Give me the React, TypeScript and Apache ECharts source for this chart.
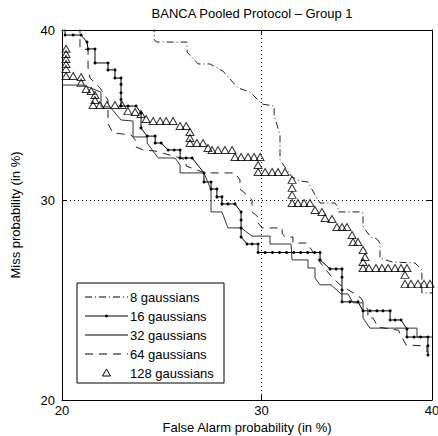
import React, { useEffect, useRef } from 'react';
import * as echarts from 'echarts';

const titleText = 'BANCA Pooled Protocol \u2013 Group 1';
const xAxisName = 'False Alarm probability (in %)';
const yAxisName = 'Miss probability (in %)';
const tickValues = [20, 30, 40];
const seriesNames = ['8 gaussians', '16 gaussians', '32 gaussians', '64 gaussians', '128 gaussians'];

// 8 gaussians (dash-dot)
const g8X = [24.35, 24.35, 24.5, 26.02, 26.02, 26.59, 27.21, 27.9, 28.71, 29.37, 30.03, 30.7, 30.7, 31.03, 31.03, 31.71, 32.16, 32.62, 33.02, 33.31, 34.18, 34.36, 34.36, 35.65, 35.83, 35.83, 36.3, 36.66, 36.84, 36.84, 37.57, 38.96, 39.38, 39.38, 39.69, 40.0];
const g8Y = [40.3, 39.39, 39.26, 39.26, 38.65, 37.93, 37.93, 37.5, 36.49, 36.24, 35.53, 35.41, 34.88, 33.72, 32.27, 31.31, 31.09, 31.03, 30.31, 29.86, 29.86, 29.64, 29.37, 29.37, 29.31, 28.55, 28.01, 27.9, 27.69, 26.9, 26.69, 26.64, 26.28, 25.1, 25.1, 25.1];

// 16 gaussians (solid with dots)
const g16X = [20.14, 20.14, 20.5, 20.86, 21.13, 21.18, 21.5, 21.5, 22.11, 22.11, 22.44, 22.44, 22.73, 22.73, 22.73, 22.73, 22.73, 23.07, 23.46, 23.7, 23.7, 24.0, 24.4, 24.4, 24.7, 25.05, 25.36, 25.66, 25.66, 25.97, 26.28, 26.9, 26.9, 27.27, 27.27, 27.58, 27.58, 27.85, 27.85, 28.17, 28.55, 28.88, 28.88, 28.88, 28.88, 29.2, 29.48, 29.81, 29.81, 30.2, 30.6, 31.0, 31.4, 31.8, 32.2, 32.6, 33.0, 33.31, 33.31, 33.89, 34.24, 34.59, 34.59, 34.59, 34.59, 35.06, 35.53, 35.83, 36.24, 36.66, 37.02, 37.45, 37.45, 37.75, 38.11, 38.47, 38.47, 38.9, 39.3, 39.75, 39.75, 39.75];
const g16Y = [40.3, 39.69, 39.69, 39.69, 39.26, 38.84, 38.84, 37.99, 37.99, 37.57, 37.57, 37.08, 37.08, 36.7, 36.2, 35.8, 35.41, 35.41, 35.41, 35.0, 34.12, 33.65, 33.65, 33.25, 33.25, 32.85, 32.85, 32.85, 32.39, 32.39, 32.39, 31.54, 31.03, 31.03, 30.64, 30.64, 30.2, 30.2, 29.81, 29.81, 29.81, 29.37, 28.93, 28.5, 28.01, 27.64, 27.64, 27.64, 27.19, 27.19, 27.19, 27.19, 27.19, 27.19, 27.19, 27.19, 27.19, 27.19, 26.8, 26.33, 26.33, 26.33, 25.9, 25.25, 24.65, 24.65, 24.65, 24.2, 24.2, 24.2, 24.2, 24.2, 23.75, 23.75, 23.75, 23.31, 22.92, 22.92, 22.92, 22.92, 22.5, 22.06];

// 32 gaussians (solid)
const g32X = [20.0, 20.95, 21.78, 21.78, 22.2, 22.73, 23.31, 23.31, 24.0, 24.0, 24.55, 25.4, 25.66, 25.66, 26.9, 27.27, 27.27, 27.85, 28.17, 28.88, 29.48, 30.47, 30.47, 31.65, 31.71, 32.62, 32.62, 33.02, 33.02, 33.31, 33.95, 34.53, 34.94, 35.24, 35.83, 35.83, 36.24, 39.08, 39.08, 40.0];
const g32Y = [36.66, 36.66, 36.24, 35.36, 35.36, 34.59, 34.53, 33.6, 33.6, 33.25, 32.39, 32.39, 31.99, 31.54, 31.54, 30.59, 29.37, 29.37, 28.5, 28.5, 28.06, 28.06, 27.64, 27.64, 26.8, 26.8, 26.38, 26.38, 25.86, 25.51, 25.51, 25.05, 25.05, 24.6, 24.6, 23.85, 23.35, 23.35, 22.92, 22.92];

// 64 gaussians (dashed)
const g64X = [20.81, 20.81, 21.18, 21.18, 21.27, 21.73, 22.11, 22.11, 22.35, 23.21, 23.46, 23.46, 23.8, 24.4, 25.66, 25.97, 25.97, 26.95, 28.55, 28.82, 28.82, 29.2, 29.48, 29.48, 29.81, 29.81, 30.03, 31.15, 31.15, 31.31, 31.76, 31.76, 32.56, 32.9, 33.42, 33.89, 34.47, 35.36, 35.71, 36.12, 36.12, 36.42, 36.72, 37.95, 38.41, 39.69, 39.69, 40.0];
const g64Y = [40.3, 38.9, 38.78, 37.69, 37.08, 36.5, 35.76, 34.36, 33.83, 33.72, 33.37, 33.02, 32.85, 32.79, 32.39, 32.27, 31.93, 31.54, 31.54, 31.15, 30.64, 30.31, 30.03, 29.37, 29.09, 28.77, 28.5, 28.5, 28.22, 28.01, 28.01, 27.69, 27.69, 27.22, 26.54, 26.02, 25.51, 25.05, 24.84, 24.25, 23.85, 23.85, 23.4, 23.25, 22.54, 22.49, 22.2, 22.2];

// 128 gaussians (triangle markers)
const g128X = [20.18, 20.18, 20.18, 20.18, 20.18, 20.18, 20.5, 20.86, 20.86, 21.09, 21.32, 21.5, 21.5, 21.41, 21.73, 22.06, 22.44, 22.78, 23.06, 23.41, 23.7, 23.95, 24.3, 24.65, 24.95, 25.3, 25.66, 25.97, 26.17, 26.17, 26.17, 26.53, 26.85, 27.11, 27.32, 27.64, 28.01, 28.39, 28.55, 28.88, 29.26, 29.59, 29.92, 29.81, 29.81, 30.2, 30.59, 30.92, 31.31, 31.71, 31.71, 31.71, 31.71, 32.04, 32.39, 32.73, 33.02, 33.42, 33.6, 34.0, 34.29, 34.59, 34.88, 35.18, 35.24, 35.53, 35.83, 35.95, 35.83, 35.83, 36.18, 36.6, 36.96, 37.33, 37.75, 38.11, 38.47, 38.35, 38.35, 38.72, 39.14, 39.51, 39.88];
const g128Y = [38.85, 38.53, 38.23, 37.93, 37.63, 37.2, 37.2, 37.14, 36.8, 36.42, 36.3, 36.07, 35.77, 35.47, 35.47, 35.47, 35.47, 35.47, 35.11, 35.06, 34.94, 34.65, 34.53, 34.53, 34.53, 34.53, 34.24, 34.24, 33.89, 33.54, 33.25, 33.25, 33.25, 32.96, 32.85, 32.85, 32.85, 32.85, 32.45, 32.45, 32.45, 32.45, 32.45, 31.99, 31.59, 31.59, 31.59, 31.59, 31.59, 31.15, 30.7, 30.31, 29.86, 29.86, 29.86, 29.86, 29.48, 29.37, 29.04, 28.98, 28.55, 28.55, 28.55, 28.12, 27.75, 27.75, 27.32, 26.95, 26.69, 26.38, 26.38, 26.38, 26.38, 26.38, 26.38, 26.38, 26.38, 26.02, 25.56, 25.56, 25.56, 25.56, 25.56];

function probit(p: number): number {
  const a = [-3.969683028665376e1, 2.209460984245205e2, -2.759285104469687e2, 1.38357751867269e2, -3.066479806614716e1, 2.506628277459239];
  const b = [-5.447609879822406e1, 1.615858368580409e2, -1.556989798598866e2, 6.680131188771972e1, -1.328068155288572e1];
  const c = [-7.784894002430293e-3, -3.223964580411365e-1, -2.400758277161838, -2.549732539343734, 4.374664141464968, 2.938163982698783];
  const d = [7.784695709041462e-3, 3.224671290700398e-1, 2.445134137142996, 3.754408661907416];
  const pl = 0.02425;
  if (p < pl) {
    const q = Math.sqrt(-2 * Math.log(p));
    return (((((c[0] * q + c[1]) * q + c[2]) * q + c[3]) * q + c[4]) * q + c[5]) / ((((d[0] * q + d[1]) * q + d[2]) * q + d[3]) * q + 1);
  }
  if (p > 1 - pl) {
    const q = Math.sqrt(-2 * Math.log(1 - p));
    return -(((((c[0] * q + c[1]) * q + c[2]) * q + c[3]) * q + c[4]) * q + c[5]) / ((((d[0] * q + d[1]) * q + d[2]) * q + d[3]) * q + 1);
  }
  const q = p - 0.5;
  const r = q * q;
  return ((((((a[0] * r + a[1]) * r + a[2]) * r + a[3]) * r + a[4]) * r + a[5]) * q) / (((((b[0] * r + b[1]) * r + b[2]) * r + b[3]) * r + b[4]) * r + 1);
}

const toData = (xs: number[], ys: number[]) => xs.map((x, i) => [probit(x / 100), probit(ys[i] / 100)]);

const FONT = 'Liberation Sans, Arial, Helvetica, sans-serif';

export default function App() {
  const ref = useRef<HTMLDivElement>(null);
  useEffect(() => {
    const chart = echarts.init(ref.current!, null, { renderer: 'svg' });
    const tickP = tickValues.map((t) => probit(t / 100));
    const lo = probit(tickValues[0] / 100);
    const hi = probit(tickValues[tickValues.length - 1] / 100);
    const fmt = (v: number) => {
      const i = tickP.findIndex((t) => Math.abs(t - v) < 1e-6);
      return i >= 0 ? String(tickValues[i]) : '';
    };
    const baseAxis = (pos: string, main: boolean, labelMargin: number) => ({
      type: 'value',
      position: pos,
      min: lo,
      max: hi,
      axisLine: { show: true, onZero: false, lineStyle: { color: '#000', width: 1 } },
      axisTick: { show: true, inside: true, length: 5, customValues: tickP, lineStyle: { color: '#000' } },
      axisLabel: {
        show: main,
        customValues: tickP,
        formatter: fmt,
        showMinLabel: true,
        showMaxLabel: true,
        color: '#000',
        fontFamily: FONT,
        fontSize: 13,
        margin: labelMargin,
      },
      splitLine: main ? { show: true, lineStyle: { color: '#000', type: [1, 3], width: 1 } } : { show: false },
    });

    const gridL = 62, gridT = 30, gridR = 6, gridB = 36;

    // legend graphic
    const legX = 77, legY = 283, legW = 147, legH = 100;
    const rowY = [297, 316, 335, 354, 373];
    const lineX1 = 85, lineX2 = 128, textX = 130;
    const dashes: any[] = [[7, 3, 1, 3], null, null, [8, 6], 'none'];
    const legendChildren: any[] = [
      { type: 'rect', shape: { x: legX, y: legY, width: legW, height: legH }, style: { fill: '#fff', stroke: '#000', lineWidth: 1 } },
    ];
    seriesNames.forEach((name, i) => {
      const y = rowY[i];
      if (dashes[i] !== 'none') {
        legendChildren.push({
          type: 'line',
          shape: { x1: lineX1, y1: y, x2: lineX2, y2: y },
          style: { stroke: '#000', lineWidth: 1, lineDash: dashes[i] || undefined },
        });
      }
      if (i === 1) {
        legendChildren.push({ type: 'circle', shape: { cx: (lineX1 + lineX2) / 2, cy: y, r: 1.5 }, style: { fill: '#000' } });
      }
      if (i === 4) {
        const cx = (lineX1 + lineX2) / 2;
        legendChildren.push({
          type: 'polygon',
          shape: { points: [[cx - 4, y + 3], [cx + 4, y + 3], [cx, y - 4]] },
          style: { fill: 'none', stroke: '#000', lineWidth: 1 },
        });
      }
      legendChildren.push({
        type: 'text',
        x: textX,
        y,
        style: { text: name, fill: '#000', font: `13px ${FONT}`, textVerticalAlign: 'middle', textAlign: 'left' },
      });
    });

    const option: any = {
      animation: false,
      backgroundColor: '#fff',
      title: {
        text: titleText,
        left: gridL + (438 - gridL - gridR) / 2,
        top: 2,
        textAlign: 'center',
        textStyle: { fontSize: 13, fontWeight: 'normal', fontFamily: FONT, color: '#000' },
      },
      grid: { left: gridL, top: gridT, right: gridR, bottom: gridB, show: false, containLabel: false, outerBoundsMode: 'none' },
      xAxis: [
        {
          ...baseAxis('bottom', true, 4), name: xAxisName, nameLocation: 'middle', nameGap: 21, nameMoveOverlap: false,
          nameTextStyle: { fontFamily: FONT, fontSize: 13, color: '#000' },
        },
        baseAxis('top', false, 4),
      ],
      yAxis: [
        {
          ...baseAxis('left', true, 7), name: yAxisName, nameLocation: 'middle', nameGap: 40, nameMoveOverlap: false,
          nameTextStyle: { fontFamily: FONT, fontSize: 13, color: '#000' },
        },
        baseAxis('right', false, 7),
      ],
      series: [
        {
          name: seriesNames[0], type: 'line', data: toData(g8X, g8Y), symbol: 'none', clip: true,
          lineStyle: { color: '#222', width: 1, type: [7, 3, 1, 3] },
        },
        {
          name: seriesNames[1], type: 'line', data: toData(g16X, g16Y), symbol: 'circle', symbolSize: 3, showAllSymbol: true, clip: true,
          itemStyle: { color: '#000' }, lineStyle: { color: '#000', width: 1 },
        },
        {
          name: seriesNames[2], type: 'line', data: toData(g32X, g32Y), symbol: 'none', clip: true,
          lineStyle: { color: '#333', width: 1 },
        },
        {
          name: seriesNames[3], type: 'line', data: toData(g64X, g64Y), symbol: 'none', clip: true,
          lineStyle: { color: '#222', width: 1, type: [8, 6] },
        },
        {
          name: seriesNames[4], type: 'scatter', data: toData(g128X, g128Y), symbol: 'triangle', symbolSize: [8, 7], clip: true,
          itemStyle: { color: 'rgba(0,0,0,0)', borderColor: '#000', borderWidth: 1 },
        },
      ],
      graphic: [{ type: 'group', z: 100, children: legendChildren }],
    };
    chart.setOption(option);
    return () => chart.dispose();
  }, []);
  return <div ref={ref} style={{ position: 'fixed', left: 0, top: 0, width: 438, height: 436 }} />;
}
